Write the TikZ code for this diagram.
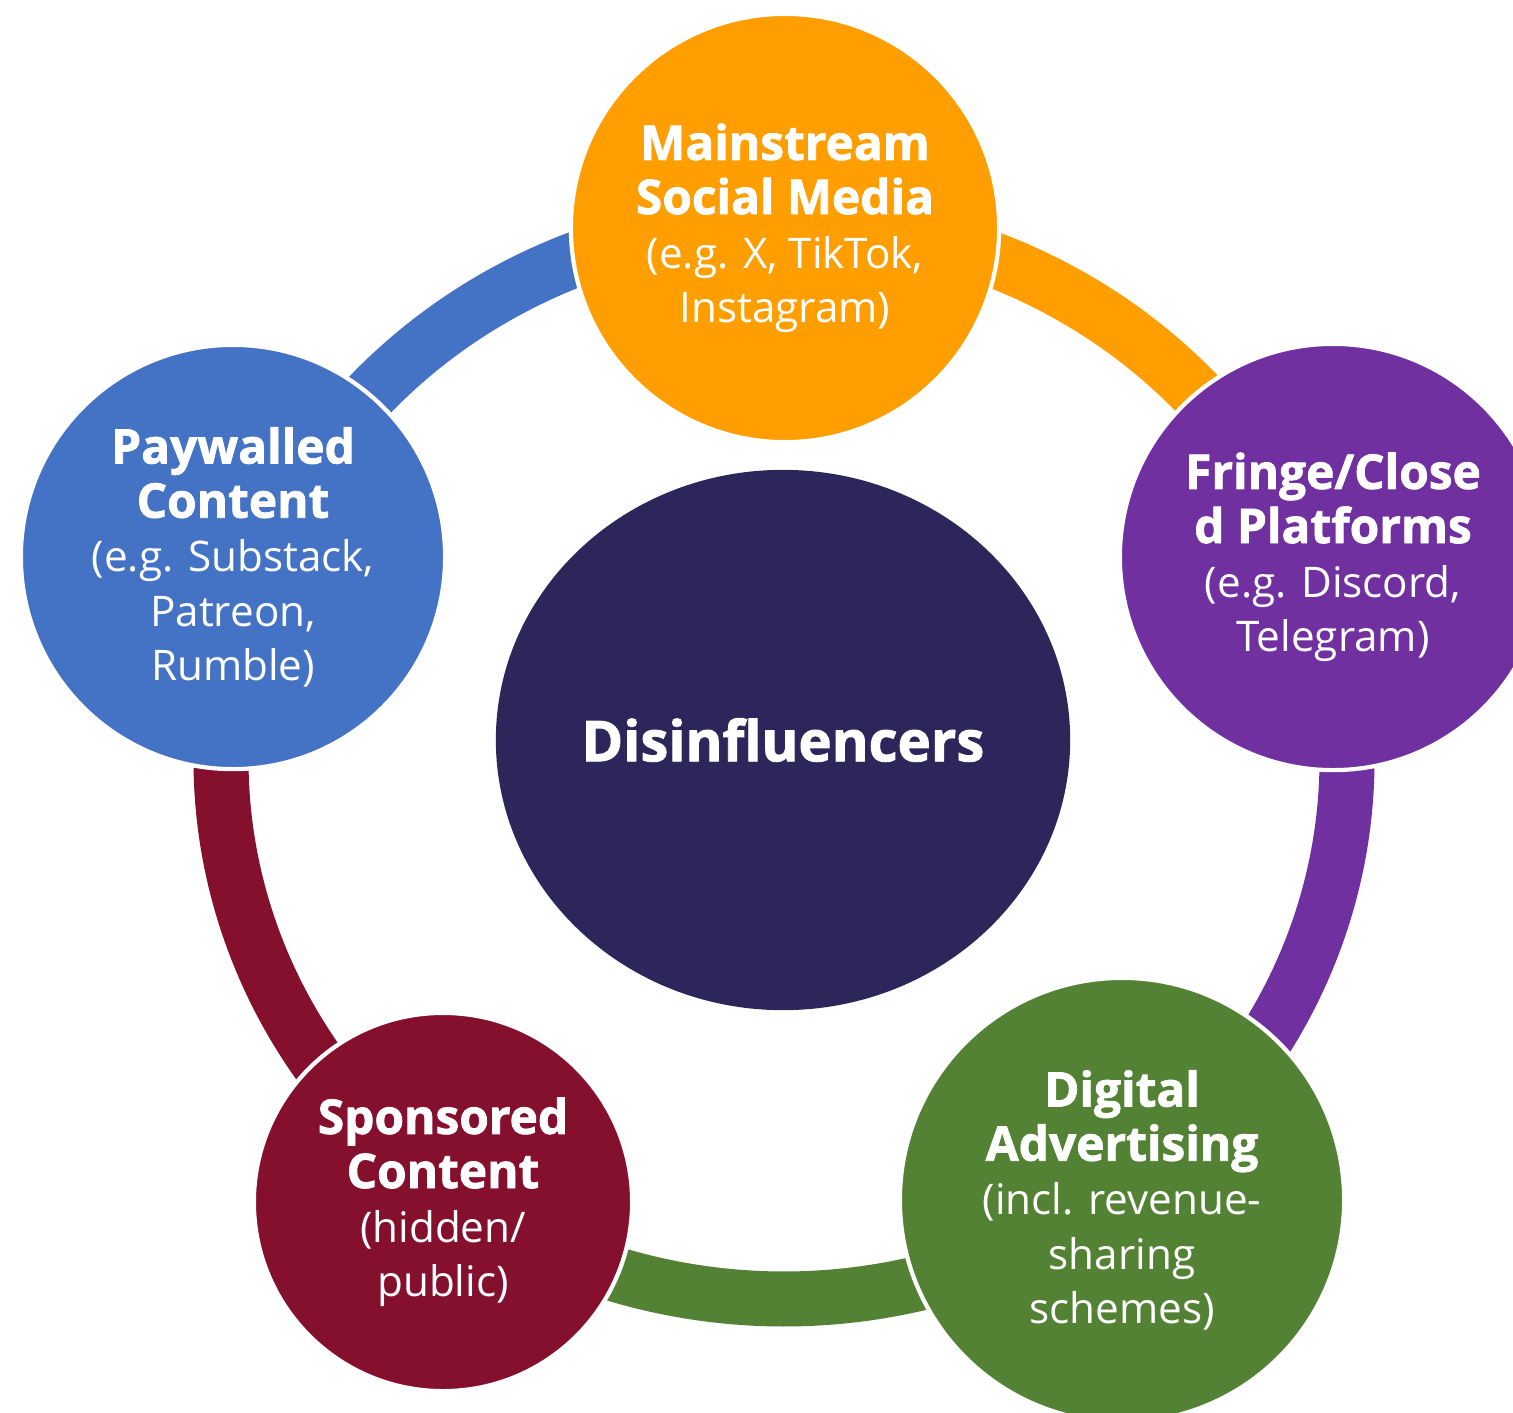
\documentclass[tikz,border=0pt]{standalone}
\usepackage{fontspec}
\setmainfont{Open Sans}[BoldFeatures={FakeBold=1.6}]
\usetikzlibrary{shapes.geometric}
\definecolor{paycol}{HTML}{4472C4}
\definecolor{maincol}{HTML}{FF9E00}
\definecolor{fringecol}{HTML}{7030A0}
\definecolor{digitcol}{HTML}{548235}
\definecolor{sponscol}{HTML}{85102E}
\definecolor{corecol}{HTML}{2C265A}
\newcommand{\plathead}[1]{{\fontsize{13.6}{15.4}\selectfont\bfseries #1}}

\begin{document}
\begin{tikzpicture}[x=0.01cm,y=-0.01cm]
        \tikzstyle{every node}=[font=\fontsize{12}{15.4}\selectfont, text=white, align=center]
        \tikzstyle{platform}=[circle, draw=white, line width=1.2pt, inner sep=0pt]
        \tikzstyle{ringseg}=[line width=0.55cm]
        \useasboundingbox (0,0) rectangle (1513,1412);
        \coordinate (ring) at (784,760);
        \draw[ringseg, paycol] (ring) ++(-158.9:563 and 539) arc[start angle=-158.9, end angle=-90, x radius=563, y radius=539];
        \draw[ringseg, maincol] (ring) ++(-90:563 and 539) arc[start angle=-90, end angle=-21.1, x radius=563, y radius=539];
        \draw[ringseg, fringecol] (ring) ++(-21.1:563 and 539) arc[start angle=-21.1, end angle=53.7, x radius=563, y radius=539];
        \draw[ringseg, digitcol] (ring) ++(53.7:563 and 539) arc[start angle=53.7, end angle=126.5, x radius=563, y radius=539];
        \draw[ringseg, sponscol] (ring) ++(126.5:563 and 539) arc[start angle=126.5, end angle=201.1, x radius=563, y radius=539];
        \node[platform, fill=maincol, minimum size=4.28cm] (main) at (785,228) {\plathead{Mainstream}\\\plathead{Social Media}\\(e.g. X, TikTok,\\Instagram)};
        \node[platform, fill=fringecol, minimum size=4.26cm] (fringe) at (1333,557) {\plathead{Fringe/Close}\\\plathead{d Platforms}\\(e.g. Discord,\\Telegram)};
        \node[platform, fill=digitcol, minimum size=4.44cm] (digital) at (1122,1200) {\plathead{Digital}\\\plathead{Advertising}\\(incl. revenue-\\sharing\\schemes)};
        \node[platform, fill=sponscol, minimum size=3.78cm] (sponsored) at (443,1202) {\plathead{Sponsored}\\\plathead{Content}\\(hidden/\\public)};
        \node[platform, fill=paycol, minimum size=4.24cm] (paywalled) at (233,557) {\plathead{Paywalled}\\\plathead{Content}\\(e.g. Substack,\\Patreon,\\Rumble)};
        \node[ellipse, fill=corecol, minimum width=5.74cm, minimum height=5.4cm, inner sep=0pt, font=\fontsize{16}{18}\selectfont\bfseries] (core) at (783,740) {Disinfluencers};
    \end{tikzpicture}
\end{document}
